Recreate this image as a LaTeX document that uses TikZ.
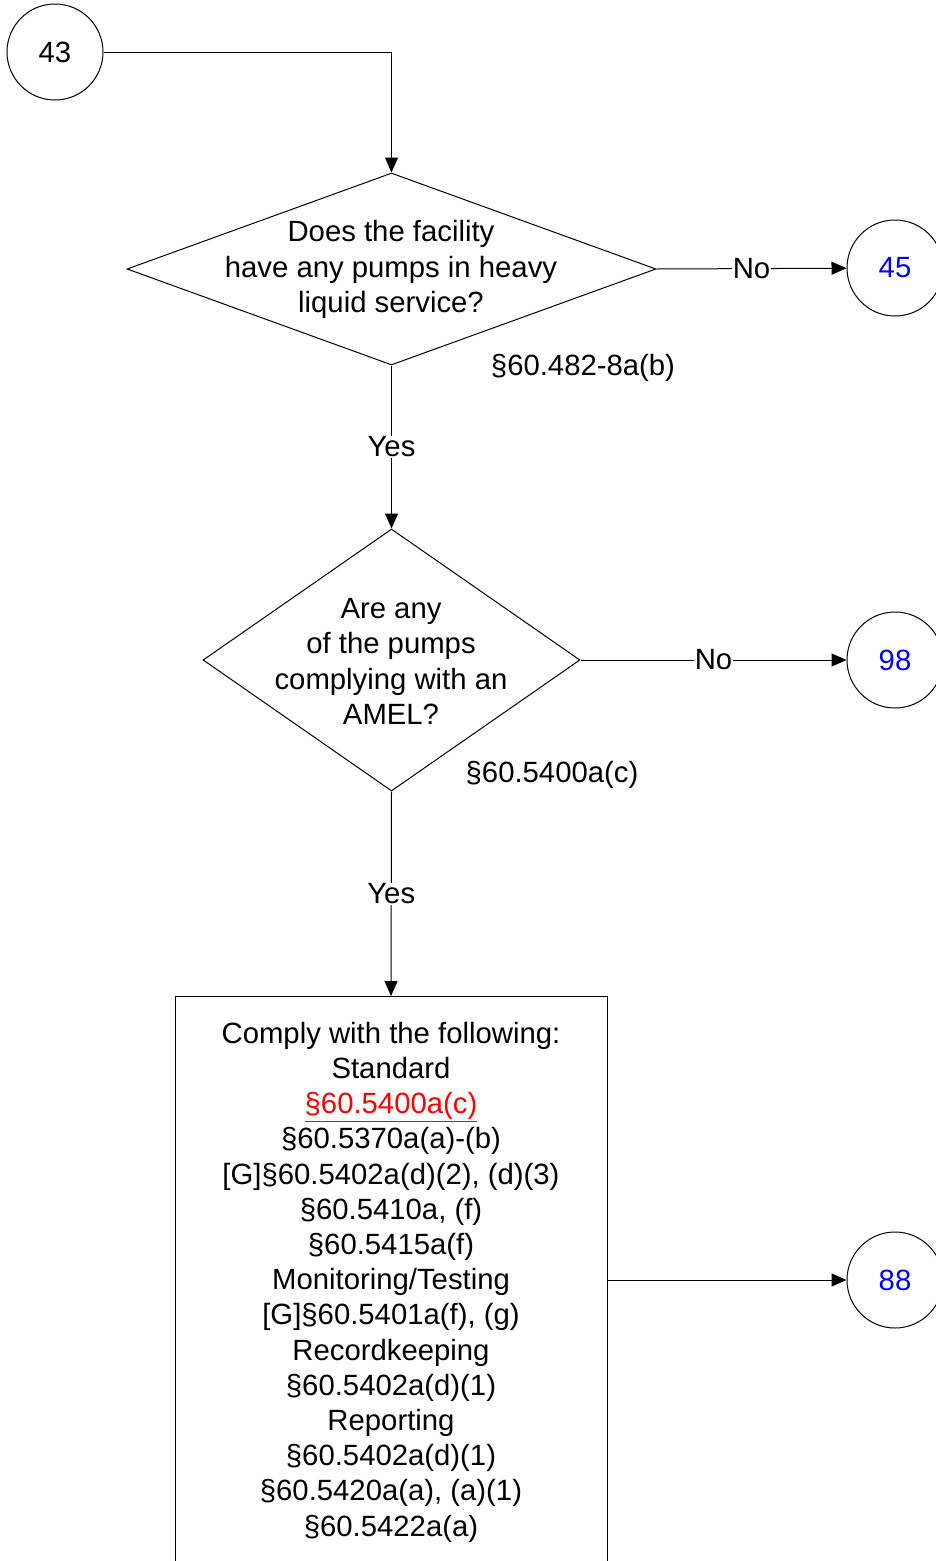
\documentclass[tikz,border=0pt]{standalone}
\usepackage{fontspec}
\setmainfont{Liberation Sans}
\usetikzlibrary{arrows.meta,shapes.geometric}
\definecolor{refred}{RGB}{255,0,0}
\definecolor{refblue}{RGB}{0,0,255}
\begin{document}
\begin{tikzpicture}[x=1pt,y=-1pt,
  every node/.style={font=\fontsize{29.3}{35.2}\selectfont},
  conn/.style={circle,draw,line width=1pt,minimum size=96pt,inner sep=0pt},
  dec/.style={diamond,draw,line width=1pt,inner sep=0pt},
  txt/.style={align=center,inner sep=0pt},
  lbl/.style={fill=white,inner sep=1pt},
  ln/.style={line width=1pt},
  arr/.style={line width=1pt,-{Triangle[length=15pt,width=13pt]}}]
\useasboundingbox (0,0) rectangle (936,1561);
\clip (0,0) rectangle (936,1561);
\fill[white] (0,0) rectangle (936,1561);

% connectors (circles)
\node[conn] (c43) at (55,52) {43};
\node[conn,text=refblue] (c45) at (895,268) {45};
\node[conn,text=refblue] (c98) at (895,660) {98};
\node[conn,text=refblue] (c88) at (895,1280) {88};

% decision 1
\node[dec,minimum width=529pt,minimum height=192pt] (d1) at (391.5,269) {};
\node[txt] (q1) at (391,269.5) {Does the facility\\have any pumps in heavy\\liquid service?};
\node (r1) at (583,367.5) {§60.482-8a(b)};

% decision 2
\node[dec,minimum width=377pt,minimum height=262pt] (d2) at (391.5,660) {};
\node[txt] (q2) at (391,661.5) {Are any\\of the pumps\\complying with an\\AMEL?};
\node (r2) at (552,774.5) {§60.5400a(c)};

% action box
\node[draw,ln,minimum width=432pt,minimum height=640pt,anchor=north,inner sep=0pt] (box) at (391,996) {};
\node[txt] (bt) at (391,1282) {Comply with the following:\\Standard\\{\color{refred}\underline{§60.5400a(c)}}\\§60.5370a(a)-(b)\\{}[G]§60.5402a(d)(2), (d)(3)\\§60.5410a, (f)\\§60.5415a(f)\\Monitoring/Testing\\{}[G]§60.5401a(f), (g)\\Recordkeeping\\§60.5402a(d)(1)\\Reporting\\§60.5402a(d)(1)\\§60.5420a(a), (a)(1)\\§60.5422a(a)};

% connectors
\draw[arr] (c43.east) -| (d1.north);
\draw[arr] (d1.east) -- node[lbl] {No} (c45);
\draw[arr] (d1.south) -- node[lbl] {Yes} (d2.north);
\draw[arr] (d2.east) -- node[lbl] {No} (c98);
\draw[arr] (d2.south) -- node[lbl] {Yes} (box.north);
\draw[arr] (box.east |- c88) -- (c88);
\end{tikzpicture}
\end{document}
